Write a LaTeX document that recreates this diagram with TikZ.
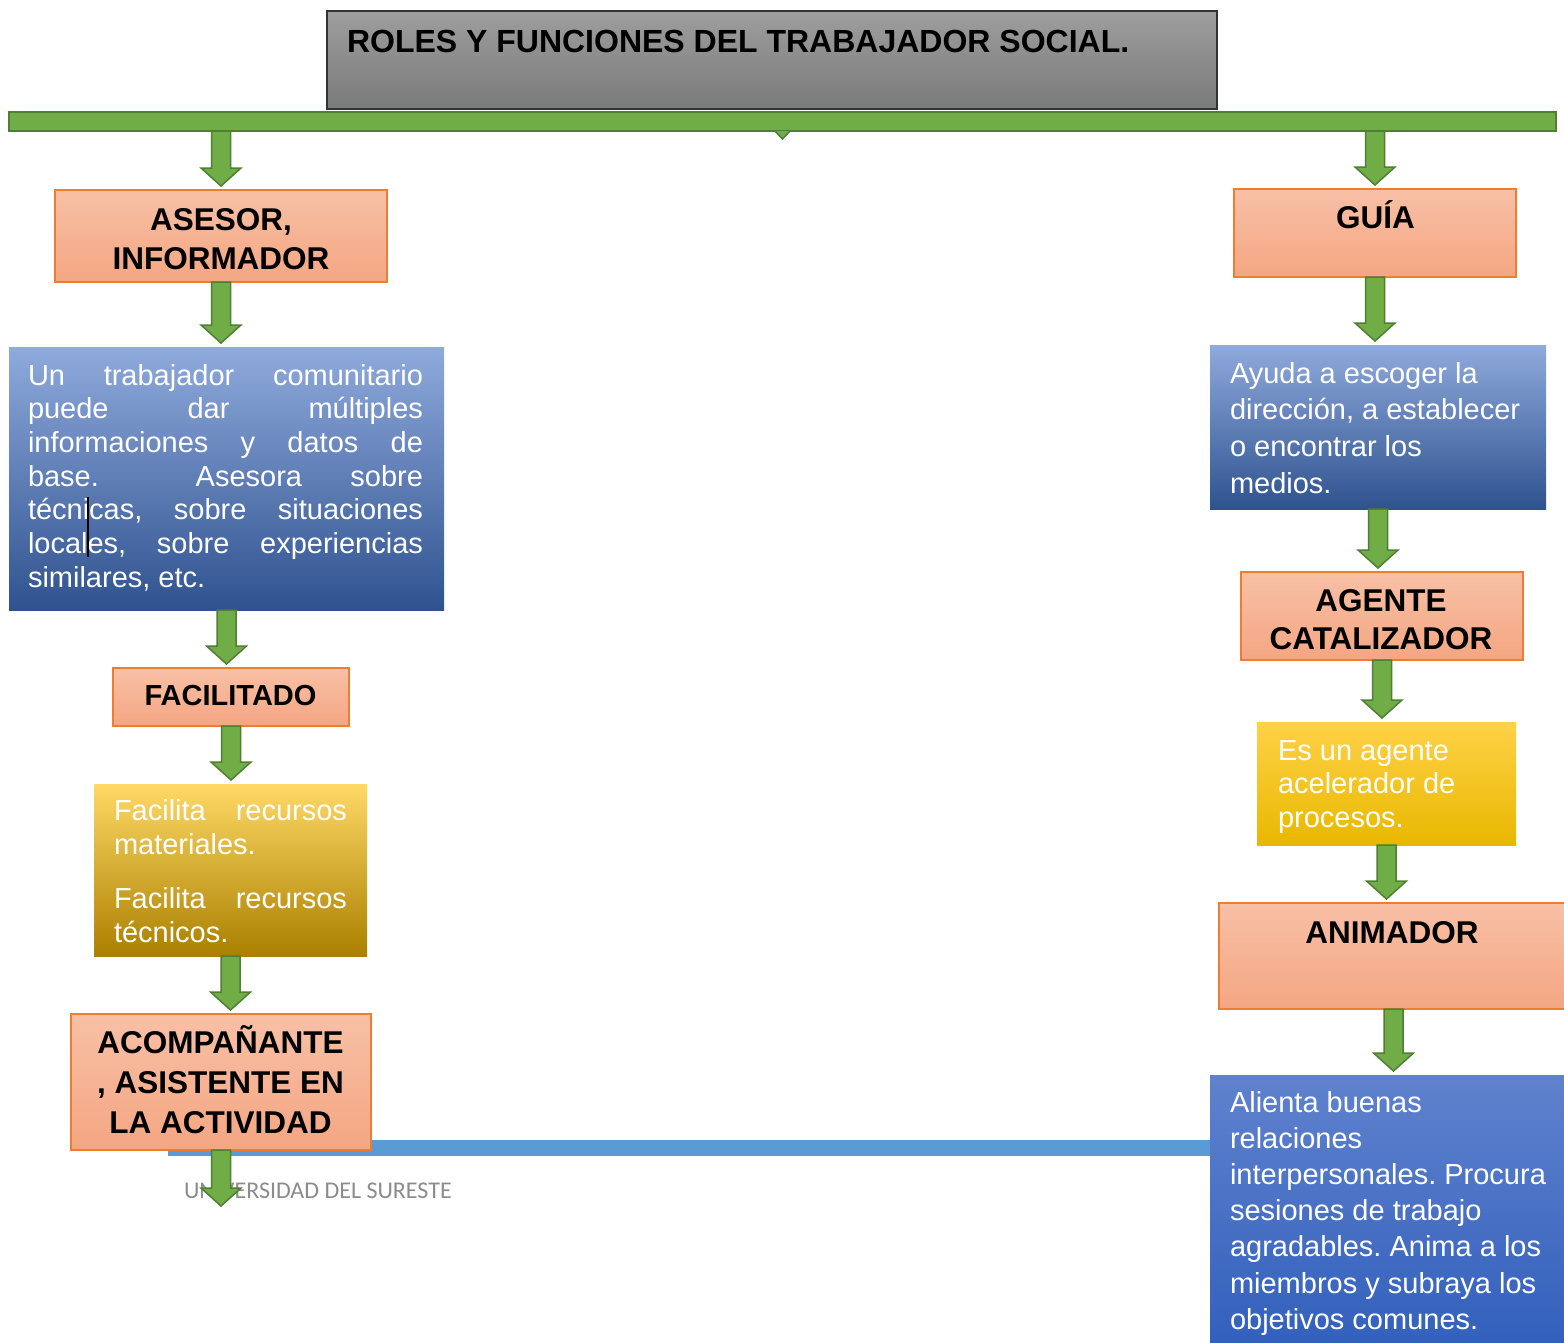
\documentclass[tikz,border=0pt]{standalone}
\usepackage{fontspec}
\setmainfont{Liberation Sans}
\newfontfamily\footfont{Carlito}
\usetikzlibrary{calc}
\frenchspacing
\definecolor{gfill}{HTML}{70AD47}
\definecolor{gline}{HTML}{507E32}
\definecolor{sTop}{RGB}{248,192,166}
\definecolor{sBot}{RGB}{244,166,130}
\definecolor{sLine}{HTML}{ED7D31}
\definecolor{tTop}{RGB}{158,158,158}
\definecolor{tBot}{RGB}{122,122,122}
\definecolor{tLine}{RGB}{50,50,50}
\definecolor{bTop}{RGB}{143,170,220}
\definecolor{bMid}{RGB}{70,114,196}
\definecolor{bBot}{RGB}{47,82,143}
\definecolor{btTop}{RGB}{96,130,206}
\definecolor{btBot}{RGB}{50,96,188}
\definecolor{yTop}{RGB}{255,217,102}
\definecolor{yMid}{RGB}{255,192,0}
\definecolor{yBot}{RGB}{170,128,0}
\definecolor{yrBot}{RGB}{232,184,0}
\definecolor{stripe}{HTML}{5B9BD5}
\definecolor{footgray}{RGB}{140,140,140}

\newcommand\jusline[2]{\hbox to #1{\spaceskip=.28em plus 30em\relax #2}}
\newcommand\ctrline[1]{\hbox to 0pt{\hss#1\hss}}
\newcommand\bodyfs{\fontsize{29}{34}\selectfont}
\newcommand\headfs{\bfseries\fontsize{31.5}{38}\selectfont}
\newcommand\blkarrow[2]{%
  \filldraw[garrow] let \p1=#1, \p2=#2 in
    (\x1-9.5pt,\y1) -- (\x1-9.5pt,\y2+22pt) -- (\x1-20pt,\y2+22pt) --
    (\x1,\y2+4pt) -- (\x1+20pt,\y2+22pt) -- (\x1+9.5pt,\y2+22pt) --
    (\x1+9.5pt,\y1) -- cycle;}

\tikzset{
  box/.style={rectangle, inner sep=0pt, outer sep=0pt, anchor=north west},
  salmon/.style={box, top color=sTop, bottom color=sBot, draw=sLine, line width=1.3pt},
  titlebox/.style={box, top color=tTop, bottom color=tBot, draw=tLine, line width=1.3pt},
  bluebox/.style={box, top color=bTop, middle color=bMid, bottom color=bBot},
  bluebox2/.style={box, top color=btTop, bottom color=btBot},
  yellowL/.style={box, top color=yTop, middle color=yMid, bottom color=yBot},
  yellowR/.style={box, top color=yTop!70!yMid, middle color=yMid, bottom color=yrBot},
  greenbar/.style={box, fill=gfill, draw=gline, line width=1.5pt},
  garrow/.style={fill=gfill, draw=gline, line width=1.5pt, line join=miter},
  txt/.style={inner sep=0pt, outer sep=0pt},
  wtxt/.style={txt, text=white, font=\bodyfs, anchor=base west},
  htxt/.style={txt, text=black, font=\headfs, anchor=base},
}

\begin{document}
\begin{tikzpicture}[x=1pt, y=-1pt]
\clip (0,0) rectangle (1564,1342);
\fill[white] (0,0) rectangle (1564,1342);

% blue stripe (behind)
\fill[stripe] (168,1140) rectangle (1230,1156);

% title and bar
\node[titlebox, minimum width=890, minimum height=98] (title) at (327,11) {};
\node[txt, anchor=base west, font=\bfseries\fontsize{32}{38}\selectfont] (titletxt) at (347,52) {ROLES Y FUNCIONES DEL TRABAJADOR SOCIAL.};
\node[greenbar, minimum width=1547, minimum height=19] (bar) at (9,112) {};
\filldraw[garrow] ($(bar.south)+(-7.5,0)$) -- ($(bar.south)+(0,8)$) -- ($(bar.south)+(7.5,0)$);

% left column boxes
\node[salmon, minimum width=332, minimum height=92] (asesor) at (55,190) {};
\node[bluebox, minimum width=435, minimum height=263] (blueL) at (9,347) {};
\node[salmon, minimum width=236, minimum height=58] (facil) at (113,668) {};
\node[yellowL, minimum width=273, minimum height=172] (yelL) at (94,784) {};
\node[salmon, minimum width=300, minimum height=136] (acomp) at (71,1014) {};

% right column boxes
\node[salmon, minimum width=282, minimum height=88] (guia) at (1234,189) {};
\node[bluebox, minimum width=336, minimum height=164] (blueR) at (1210,345) {};
\node[salmon, minimum width=282, minimum height=88] (agente) at (1241,572) {};
\node[yellowR, minimum width=259, minimum height=123] (yelR) at (1257,722) {};
\node[salmon, minimum width=352, minimum height=106] (anim) at (1219,903) {};
\node[bluebox2, minimum width=360, minimum height=270] (blueR2) at (1210,1075) {};

% header texts
\node[htxt] (asesortxt) at (221,230) {\vtop{\baselineskip=39.5pt \ctrline{ASESOR,}\ctrline{INFORMADOR}}};
\node[htxt, font=\bfseries\fontsize{29}{34}\selectfont] (faciltxt) at (230.5,705) {FACILITADO};
\node[htxt] (acomptxt) at (220.5,1053) {\vtop{\baselineskip=40pt \ctrline{ACOMPAÑANTE}\ctrline{, ASISTENTE EN}\ctrline{LA ACTIVIDAD}}};
\node[htxt] (guiatxt) at (1375.5,228) {GUÍA};
\node[htxt] (agentetxt) at (1381,611) {\vtop{\baselineskip=38.5pt \ctrline{AGENTE}\ctrline{CATALIZADOR}}};
\node[htxt] (animtxt) at (1392,943) {ANIMADOR};

% body texts
\node[wtxt] (blueLtxt) at (28,385) {\vtop{\baselineskip=33.7pt
  \jusline{395pt}{Un trabajador comunitario}
  \jusline{395pt}{puede dar múltiples}
  \jusline{395pt}{informaciones y datos de}
  \jusline{395pt}{base.\ \ Asesora sobre}
  \jusline{395pt}{técnicas, sobre situaciones}
  \jusline{395pt}{locales, sobre experiencias}
  \hbox{similares, etc.}}};
\draw[line width=2pt] (88,497) -- (88,557);

\node[wtxt] (yelLtxt) at (114,820) {\vtop{\baselineskip=34pt
  \jusline{233pt}{Facilita recursos}
  \hbox{materiales.}
  \vskip 20pt
  \jusline{233pt}{Facilita recursos}
  \hbox{técnicos.}}};

\node[wtxt] (blueRtxt) at (1230,383) {\vtop{\baselineskip=36.7pt
  \hbox{Ayuda a escoger la}
  \hbox{dirección, a establecer}
  \hbox{o encontrar los}
  \hbox{medios.}}};

\node[wtxt] (yelRtxt) at (1278,760) {\vtop{\baselineskip=33.7pt
  \hbox{Es un agente}
  \hbox{acelerador de}
  \hbox{procesos.}}};

\node[wtxt] (blueR2txt) at (1230,1112) {\vtop{\baselineskip=36.2pt
  \hbox{Alienta buenas}
  \hbox{relaciones}
  \hbox{interpersonales. Procura}
  \hbox{sesiones de trabajo}
  \hbox{agradables. Anima a los}
  \hbox{miembros y subraya los}
  \hbox{objetivos comunes.}}};

% footer
\node[txt, anchor=base west, text=footgray, font=\footfont\fontsize{24}{28}\selectfont] (footer) at (184,1198) {UNIVERSIDAD DEL SURESTE};

% arrows
\coordinate (endA) at (220,1210);
\blkarrow{(bar.south -| asesor.north)}{(asesor.north)}
\blkarrow{(asesor.south)}{(blueL.north)}
\blkarrow{(blueL.south)}{(facil.north)}
\blkarrow{(facil.south)}{(yelL.north)}
\blkarrow{(yelL.south)}{(acomp.north)}
\blkarrow{(acomp.south)}{(endA)}
\blkarrow{(bar.south -| guia.north)}{(guia.north)}
\blkarrow{(guia.south)}{(blueR.north)}
\blkarrow{(blueR.south)}{(agente.north)}
\blkarrow{(agente.south)}{(yelR.north)}
\blkarrow{(yelR.south)}{(anim.north)}
\blkarrow{([xshift=-1.5pt]anim.south)}{(blueR2.north)}
\end{tikzpicture}
\end{document}
